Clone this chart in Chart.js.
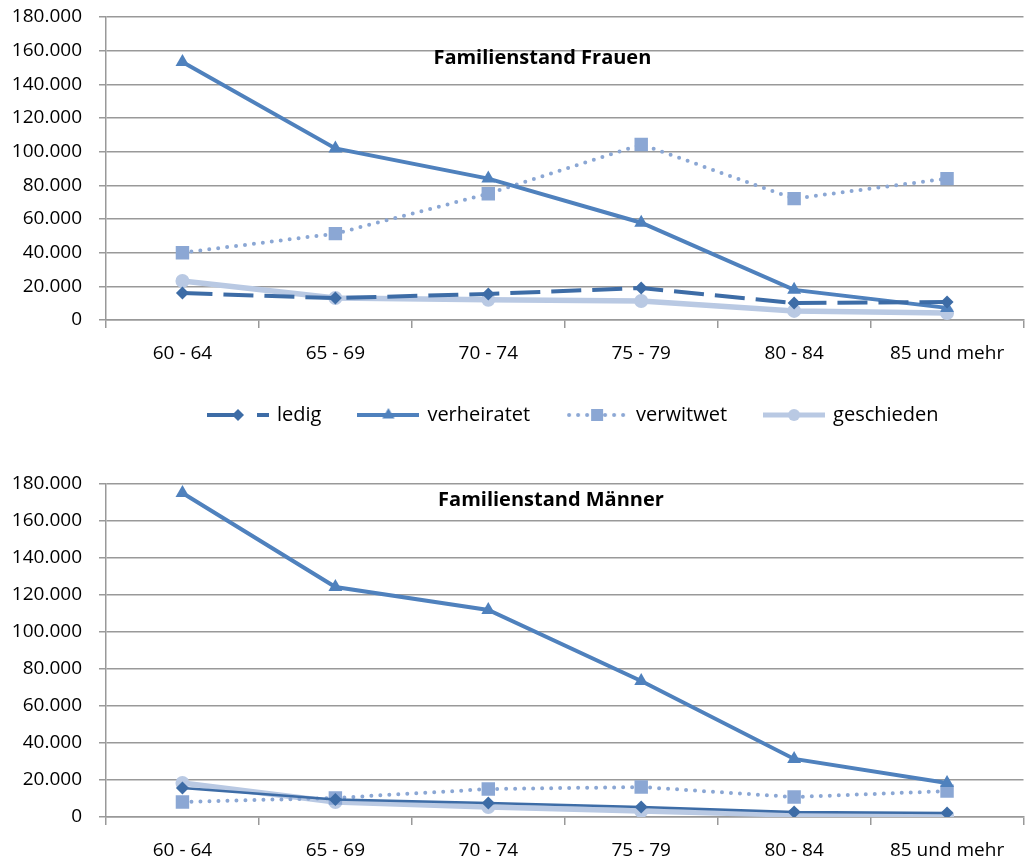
<!DOCTYPE html>
<html>
<head>
<meta charset="utf-8">
<script src="https://cdn.jsdelivr.net/npm/chart.js@4/dist/chart.umd.min.js"></script>
<style>
  html, body { margin: 0; padding: 0; background: #fff; overflow: hidden; }
  #wrapFrauen { position: absolute; left: 0; top: 0; width: 1033px; height: 435px; }
  #wrapMaenner { position: absolute; left: 0; top: 470px; width: 1033px; height: 394px; }
</style>
</head>
<body>
<div id="wrapFrauen"><canvas id="chartFrauen" width="1033" height="435"></canvas></div>
<div id="wrapMaenner"><canvas id="chartMaenner" width="1033" height="394"></canvas></div>
<script>
// Altersgruppen (x-Achse)
const altersgruppen = ['60 - 64', '65 - 69', '70 - 74', '75 - 79', '80 - 84', '85 und mehr'];
const serien = ['ledig', 'verheiratet', 'verwitwet', 'geschieden'];

// Familienstand Frauen
const frauenLedig       = [16000, 13000, 15500, 19000, 10100, 10700];
const frauenVerheiratet = [153200, 101900, 84000, 57800, 17900, 7200];
const frauenVerwitwet   = [40000, 51300, 75000, 104300, 72100, 84000];
const frauenGeschieden  = [23200, 13100, 12000, 11300, 5400, 4200];

// Familienstand Maenner
const maennerLedig       = [15700, 9500, 7600, 5400, 2700, 2200];
const maennerVerheiratet = [175100, 124300, 111900, 73500, 31400, 18400];
const maennerVerwitwet   = [8100, 10300, 15100, 16200, 10800, 14000];
const maennerGeschieden  = [18400, 8100, 5400, 3200, 1100, 500];

// y-Achse
const yMin = 0, yMax = 180000, yStep = 20000;

const farbeLedig = '#3d6ca6';
const farbeVerh  = '#4f81bd';
const farbeVerw  = '#8ba7d4';
const farbeGesch = '#b9c9e3';
const gitter = '#999999';

Chart.defaults.font.family = '"Open Sans", "Liberation Sans", sans-serif';
Chart.defaults.color = '#000';

function tausender(v){
    return String(v).replace(/\B(?=(\d{3})+(?!\d))/g, '.');
}

// kleines Symbol fuer die Legende: Linie + Marker
function legendIcon(color, lineW, dash, shape, size){
    const c = document.createElement('canvas');
    c.width = 62; c.height = 18;
    const x = c.getContext('2d');
    x.strokeStyle = color; x.fillStyle = color;
    x.lineWidth = lineW;
    x.lineCap = dash && dash[0] === 0 ? 'round' : 'butt';
    x.setLineDash(dash || []);
    x.beginPath(); x.moveTo(dash && dash[0] === 0 ? 3 : 0, 9); x.lineTo(62, 9); x.stroke();
    x.setLineDash([]);
    x.beginPath();
    if(shape === 'diamond'){ x.moveTo(31-size,9); x.lineTo(31,9-size); x.lineTo(31+size,9); x.lineTo(31,9+size); }
    if(shape === 'triangle'){ x.moveTo(31,9-size); x.lineTo(31+size*0.87,9+size*0.5); x.lineTo(31-size*0.87,9+size*0.5); }
    if(shape === 'square'){ x.rect(31-size,9-size,size*2,size*2); }
    if(shape === 'circle'){ x.arc(31,9,size,0,Math.PI*2); }
    x.closePath(); x.fill();
    return c;
}
const icons = [
    legendIcon(farbeLedig, 4, [32, 18], 'diamond', 6),
    legendIcon(farbeVerh, 4, null, 'triangle', 7),
    legendIcon(farbeVerw, 4, [0, 9], 'square', 6),
    legendIcon(farbeGesch, 5, null, 'circle', 6)
];

// Titel steht im Diagrammbereich
const innerTitle = {
    id: 'innerTitle',
    afterLayout(chart, args, opts){
        // Legende etwas nach rechts wie im Original
        if(chart.legend && opts.legendShift){
            chart.legend.left += opts.legendShift;
            chart.legend.right += opts.legendShift;
        }
    },
    afterDraw(chart, args, opts){
        const a = chart.chartArea, ctx = chart.ctx;
        ctx.save();
        ctx.font = 'bold 20px "Open Sans", sans-serif';
        ctx.fillStyle = '#000';
        ctx.textAlign = 'center';
        ctx.textBaseline = 'middle';
        ctx.fillText(opts.text, a.left + a.width * opts.pos, a.top + opts.dy);
        ctx.restore();
    }
};

function datensaetze(ledig, verh, verw, gesch, ledigDash, ledigW){
    return [
        { label: serien[0], data: ledig, borderColor: farbeLedig, backgroundColor: farbeLedig,
          borderWidth: ledigW, borderDash: ledigDash, pointStyle: 'rectRot', pointRadius: 6.5, pointBorderWidth: 0 },
        { label: serien[1], data: verh, borderColor: farbeVerh, backgroundColor: farbeVerh,
          borderWidth: 4, pointStyle: 'triangle', pointRadius: 8, pointBorderWidth: 0 },
        { label: serien[2], data: verw, borderColor: farbeVerw, backgroundColor: farbeVerw,
          borderWidth: 4, borderDash: [0, 9], borderCapStyle: 'round', pointStyle: 'rect', pointRadius: 9.5, pointBorderWidth: 0 },
        { label: serien[3], data: gesch, borderColor: farbeGesch, backgroundColor: farbeGesch,
          borderWidth: 5.5, pointStyle: 'circle', pointRadius: 7, pointBorderWidth: 0 }
    ];
}

function optionen(titel, titelPos, titelDy, padTop, xHoehe, mitLegende){
    return {
        responsive: false,
        animation: false,
        layout: { padding: { top: padTop, right: 2, left: 0, bottom: 0 } },
        elements: { line: { tension: 0 } },
        scales: {
            x: {
                offset: true,
                grid: { offset: true, drawOnChartArea: false, color: gitter, lineWidth: 1.5, tickLength: 8 },
                border: { color: gitter, width: 1.5 },
                ticks: { font: { size: 19 }, color: '#000', padding: 14, maxRotation: 0, autoSkip: false },
                afterFit(s){ s.height = xHoehe; }
            },
            y: {
                min: yMin, max: yMax,
                grid: { color: gitter, lineWidth: 1.5, tickLength: 7 },
                border: { color: gitter, width: 1.5 },
                ticks: { stepSize: yStep, font: { size: 19 }, color: '#000', padding: 17, callback: v => tausender(v) },
                afterFit(s){ s.width = 106; s.paddingTop = 0; s.paddingBottom = 0; }
            }
        },
        plugins: {
            tooltip: { enabled: false },
            innerTitle: { text: titel, pos: titelPos, dy: titelDy, legendShift: mitLegende ? 9 : 0 },
            legend: {
                display: mitLegende,
                position: 'bottom',
                fullSize: false,
                labels: {
                    usePointStyle: true,
                    pointStyleWidth: 58,
                    padding: 38,
                    color: '#000',
                    font: { size: 20 },
                    generateLabels(chart){
                        return chart.data.datasets.map((d, i) => ({
                            text: d.label, pointStyle: icons[i], datasetIndex: i,
                            fillStyle: d.borderColor, strokeStyle: d.borderColor, lineWidth: 0, fontColor: '#000'
                        }));
                    }
                }
            }
        }
    };
}

new Chart(document.getElementById('chartFrauen'), {
    type: 'line',
    data: { labels: altersgruppen,
            datasets: datensaetze(frauenLedig, frauenVerheiratet, frauenVerwitwet, frauenGeschieden, [30, 11], 4) },
    options: optionen('Familienstand Frauen', 0.4756, 41, 17, 47, true),
    plugins: [innerTitle]
});

new Chart(document.getElementById('chartMaenner'), {
    type: 'line',
    data: { labels: altersgruppen,
            datasets: datensaetze(maennerLedig, maennerVerheiratet, maennerVerwitwet, maennerGeschieden, [], 2.5) },
    options: optionen('Familienstand Männer', 0.485, 16, 14, 47, false),
    plugins: [innerTitle]
});
</script>
</body>
</html>
